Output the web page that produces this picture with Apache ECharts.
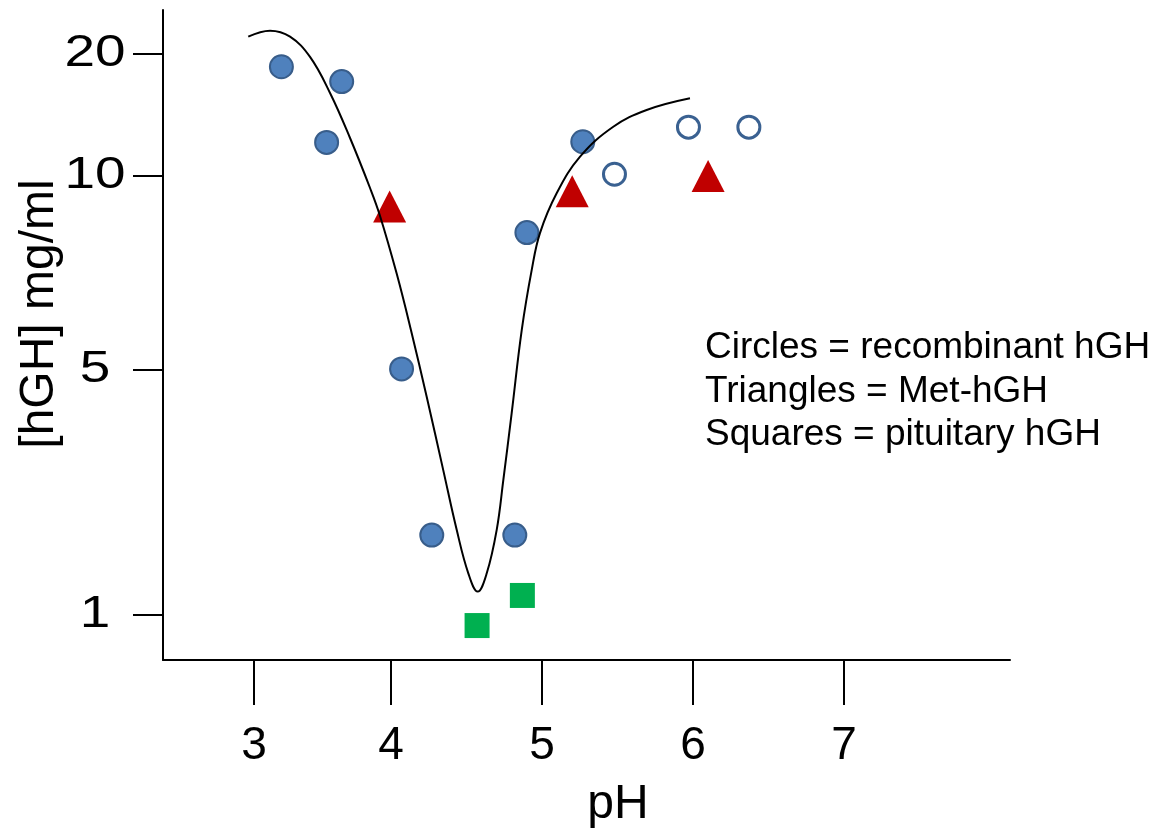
<!DOCTYPE html>
<html><head><meta charset="utf-8">
<script src="https://cdn.jsdelivr.net/npm/echarts@6/dist/echarts.min.js"></script>
<style>html,body{margin:0;padding:0;background:#fff}#c{width:1156px;height:832px}</style>
</head><body><div id="c"></div>
<script>
// ---- tick labels ----
const xTicks = [3, 4, 5, 6, 7];
const yTicks = [1, 5, 10, 20];

// ---- data: [pH, [hGH] mg/ml] ----
const recombinantFilled = [[3.20, 18.6], [3.64, 17.1], [3.53, 12.1], [4.07, 5.02], [4.27, 1.69], [4.82, 1.69], [4.90, 8.17], [5.27, 12.15]];
const recombinantOpen = [[5.48, 10.1], [5.97, 13.2], [6.37, 13.2]];
const metHGH = [[3.99, 8.97], [5.20, 9.47], [6.10, 10.0]];
const pituitaryHGH = [[4.57, 0.933], [4.87, 1.137]];
const fitCurve = [[2.958, 22.07], [3.117, 22.83], [3.263, 22.07], [3.409, 19.67], [3.555, 16.03], [3.701, 12.41], [3.847, 9.58], [3.920, 8.67], [4.038, 7.05], [4.132, 5.77], [4.236, 4.20], [4.346, 2.59], [4.435, 1.75], [4.512, 1.315], [4.574, 1.166], [4.634, 1.315], [4.700, 1.75], [4.744, 2.43], [4.799, 3.76], [4.866, 5.77], [4.932, 7.15], [4.987, 8.16], [5.097, 9.40], [5.252, 11.16], [5.472, 13.23], [5.693, 14.55], [5.980, 15.55]];

// ---- texts ----
const noteLines = ['Circles = recombinant hGH', 'Triangles = Met-hGH', 'Squares = pituitary hGH'];
const xTitle = 'pH';
const yTitle = '[hGH] mg/ml';

// ---- axis layout: hand-drawn tick spacing of the original (axis units) ----
const xTickPos = [0, 137, 288, 439, 590];
const yTickPos = [0, 245, 439, 561];

function interp(v, xs, ys) {
  let i = 0;
  if (v >= xs[xs.length - 1]) i = xs.length - 2;
  else if (v > xs[0]) { while (v > xs[i + 1]) i++; }
  const t = (v - xs[i]) / (xs[i + 1] - xs[i]);
  return ys[i] + t * (ys[i + 1] - ys[i]);
}
const yLog = yTicks.map(Math.log10);
const fx = p => interp(p, xTicks, xTickPos);
const fy = v => interp(Math.log10(v), yLog, yTickPos);
const tr = arr => arr.map(d => [fx(d[0]), fy(d[1])]);
function labelFor(val, pos, ticks) {
  let best = 0;
  for (let i = 1; i < pos.length; i++) if (Math.abs(pos[i] - val) < Math.abs(pos[best] - val)) best = i;
  return String(ticks[best]);
}

const FONT = '"Liberation Sans", Arial, sans-serif';
const chart = echarts.init(document.getElementById('c'), null, { renderer: 'canvas' });

const baseGraphics = [
  { type: 'text', x: 618, y: 805, style: { text: xTitle, fontSize: 48, fontFamily: FONT, fill: '#000', textAlign: 'center', textVerticalAlign: 'middle' } },
  { type: 'text', x: 40, y: 314, rotation: Math.PI / 2, style: { text: yTitle, fontSize: 48, fontFamily: FONT, fill: '#000', textAlign: 'center', textVerticalAlign: 'middle' } }
].concat(noteLines.map((t, i) => ({
  type: 'text', x: 705, y: 348 + i * 43.5,
  style: { text: t, fontSize: 37, fontFamily: FONT, fill: '#000', textAlign: 'left', textVerticalAlign: 'middle' }
})));

chart.setOption({
  animation: false,
  backgroundColor: '#ffffff',
  grid: { left: 163, right: 146, top: 10, bottom: 172, containLabel: false },
  xAxis: {
    type: 'value', min: -91, max: 756,
    axisLine: { show: true, onZero: false, lineStyle: { color: '#000', width: 2 } },
    axisTick: { show: true, inside: false, length: 45, customValues: xTickPos, lineStyle: { color: '#000', width: 2 } },
    axisLabel: { show: true, customValues: xTickPos, margin: 63, fontSize: 46, fontFamily: FONT, color: '#000',
      formatter: v => labelFor(v, xTickPos, xTicks) },
    splitLine: { show: false }
  },
  yAxis: {
    type: 'value', min: -45, max: 605,
    axisLine: { show: true, onZero: false, lineStyle: { color: '#000', width: 2 } },
    axisTick: { show: true, inside: false, length: 30, customValues: yTickPos, lineStyle: { color: '#000', width: 2 } },
    axisLabel: { show: false },
    splitLine: { show: false }
  },
  graphic: baseGraphics,
  series: [
    { type: 'scatter', name: 'recombinant', data: tr(recombinantFilled), symbol: 'circle', symbolSize: 23,
      itemStyle: { color: '#4F81BD', borderColor: '#385D8A', borderWidth: 2, opacity: 1 }, silent: true, z: 2 },
    { type: 'scatter', name: 'recombinant open', data: tr(recombinantOpen), symbol: 'circle', symbolSize: 22,
      itemStyle: { color: '#ffffff', borderColor: '#3A6191', borderWidth: 3, opacity: 1 }, silent: true, z: 2 },
    { type: 'scatter', name: 'Met-hGH', data: tr(metHGH), symbol: 'triangle', symbolSize: [33, 32],
      itemStyle: { color: '#C00000', opacity: 1 }, silent: true, z: 2 },
    { type: 'scatter', name: 'pituitary', data: tr(pituitaryHGH), symbol: 'rect', symbolSize: 25,
      itemStyle: { color: '#00B050', opacity: 1 }, silent: true, z: 2 },
    { type: 'line', name: 'fit', data: tr(fitCurve), smooth: 0.4, symbol: 'none', clip: false,
      lineStyle: { color: '#000', width: 2 }, silent: true, z: 3 }
  ]
});

// y tick labels: slightly wide digits as in the original, placed via the axis scale
const yLabelGraphics = yTicks.map((t, i) => ({
  type: 'text', x: 95, y: chart.convertToPixel({ yAxisIndex: 0 }, yTickPos[i]), scaleX: 1.22,
  style: { text: String(t), fontSize: 45, fontFamily: FONT, fill: '#000', textAlign: 'center', textVerticalAlign: 'middle' }
}));
chart.setOption({ graphic: baseGraphics.concat(yLabelGraphics) });
</script>
</body></html>
